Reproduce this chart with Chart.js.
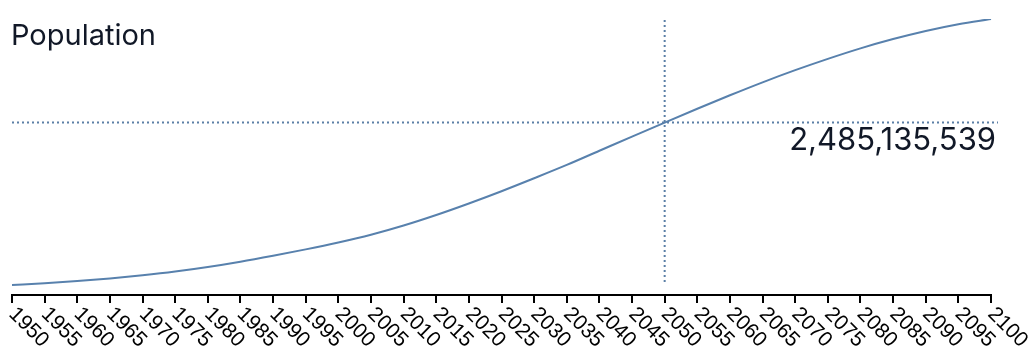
<!DOCTYPE html>
<html>
<head>
<meta charset="utf-8">
<script src="https://cdn.jsdelivr.net/npm/chart.js@4"></script>
<style>
  html, body { margin: 0; padding: 0; background: #fff; }
  #wrap { width: 1034px; height: 360px; }
</style>
</head>
<body>
<div id="wrap"><canvas id="popChart" width="1034" height="360"></canvas></div>
<script>
const years = [1950,1955,1960,1965,1970,1975,1980,1985,1990,1995,2000,2005,2010,2015,2020,2025,
  2030,2035,2040,2045,2050,2055,2060,2065,2070,2075,2080,2085,2090,2095,2100];
// population in millions
const population = [228,253,283,319,363,415,478,552,635,723,819,927,1055,1201,1361,1531,
  1711,1896,2093,2290,2485.135539,2677,2864,3044,3213,3370,3516,3645,3758,3852,3924];
const markYear = 2050;
const markLabel = '2,485,135,539';

const lineColor = '#5881ad';
const dotColor = '#5b7fa6';
const textColor = '#111827';

const overlay = {
  id: 'overlay',
  afterDraw(chart) {
    const ctx = chart.ctx;
    const area = chart.chartArea;
    const x = chart.scales.x;
    const y = chart.scales.y;
    const i = years.indexOf(markYear);
    const px = x.getPixelForTick(i);
    const py = y.getPixelForValue(population[i]);

    ctx.save();
    // crosshair
    ctx.strokeStyle = dotColor;
    ctx.lineWidth = 2;
    ctx.setLineDash([2, 3]);
    ctx.beginPath();
    ctx.moveTo(area.left, py);
    ctx.lineTo(area.right + 7, py);
    ctx.moveTo(px, area.top + 1);
    ctx.lineTo(px, area.bottom - 10);
    ctx.stroke();
    ctx.setLineDash([]);

    // value label
    ctx.fillStyle = textColor;
    ctx.font = '31px Inter';
    ctx.textAlign = 'right';
    ctx.textBaseline = 'alphabetic';
    ctx.fillText(markLabel, area.right + 5, py + 27);

    // title
    ctx.font = '29px Inter';
    ctx.textAlign = 'left';
    ctx.fillText('Population', 11, 45);

    // rotated year labels
    ctx.fillStyle = '#000';
    ctx.font = '21px "Liberation Sans"';
    ctx.textBaseline = 'middle';
    years.forEach((yr, k) => {
      const tx = x.getPixelForTick(k);
      ctx.save();
      ctx.translate(tx, area.bottom + 16);
      ctx.rotate(Math.PI / 4);
      ctx.fillText(String(yr), 0, 0);
      ctx.restore();
    });
    ctx.restore();
  }
};

new Chart(popChart, {
  type: 'line',
  data: {
    labels: years,
    datasets: [{
      data: population,
      borderColor: lineColor,
      borderWidth: 2,
      pointRadius: 0,
      cubicInterpolationMode: 'monotone'
    }]
  },
  options: {
    responsive: false,
    animation: false,
    layout: { padding: { left: 12, right: 43, top: 19, bottom: 0 } },
    plugins: { legend: { display: false }, tooltip: { enabled: false } },
    scales: {
      x: {
        offset: false,
        ticks: { display: false },
        grid: { drawOnChartArea: false, drawTicks: true, tickLength: 8, color: '#000', lineWidth: 2 },
        border: { display: true, color: '#000', width: 2 },
        afterFit(scale) { scale.height = 65; }
      },
      y: {
        display: false,
        min: 89,
        max: 3924
      }
    }
  },
  plugins: [overlay]
});
</script>
</body>
</html>
